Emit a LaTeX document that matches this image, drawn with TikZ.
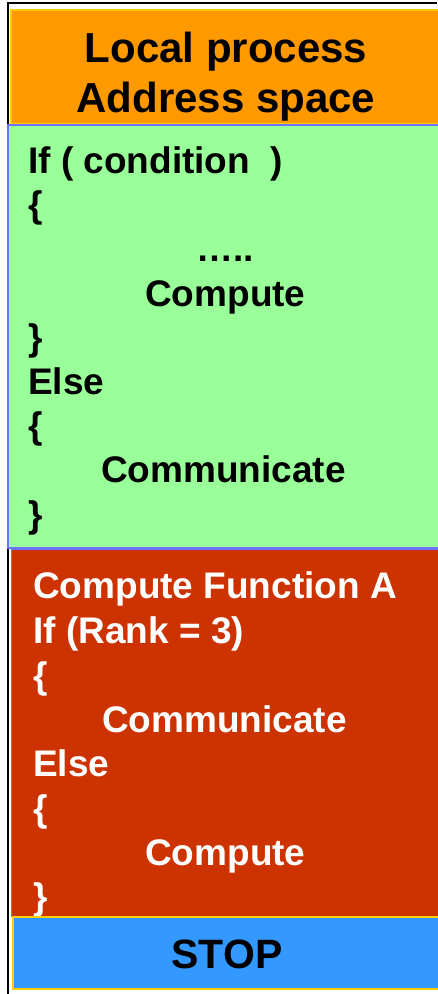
\documentclass[tikz,border=0pt]{standalone}
\usepackage{fontspec}
\setmainfont{Liberation Sans}
\definecolor{headorange}{HTML}{FF9900}
\definecolor{branchgreen}{HTML}{99FF99}
\definecolor{rankred}{HTML}{CC3300}
\definecolor{stopblue}{HTML}{3399FF}
\definecolor{rimyellow}{HTML}{FFCC00}
\definecolor{rimviolet}{HTML}{7070FF}
\tikzset{
    codeline/.style={anchor=base west, inner sep=0pt, font=\bfseries\fontsize{37}{44}\selectfont},
    headline/.style={inner sep=0pt, align=center, font=\bfseries\fontsize{42}{50}\selectfont}
}
\begin{document}
\begin{tikzpicture}[x=1pt, y=-1pt]
        \useasboundingbox (0,0) rectangle (437,994);

        % Outer frame
        \draw[line width=2pt] (8,994) -- (8,3) -- (437,3);

        % Header
        \draw[fill=headorange, draw=rimyellow, line width=1.5pt] (11,10) rectangle (440,124);
        \node[headline, anchor=base] (head) at (226,112) {Local process\\Address space};

        % Condition block
        \draw[fill=branchgreen, draw=rimviolet, line width=2pt] (8,125) rectangle (440,548);
        \foreach \x/\y/\txt [count=\i] in {28/173/{If ( condition~~)}, 28/217/\{, 196/261/{…..},
            145/306/Compute, 28/350/\}, 28/394/Else, 28/438/\{, 101/482/Communicate, 28/527/\}} {
            \node[codeline] (cond\i) at (\x,\y) {\txt};
        }

        % Rank block
        \draw[fill=rankred, draw=rimviolet, line width=1pt] (11,549) rectangle (440,916);
        \foreach \x/\y/\txt [count=\i] in {33/598/{Compute Function A}, 33/643/{If (Rank = 3)}, 33/688/\{,
            102/732/Communicate, 33/776/Else, 33/821/\{, 145/865/Compute, 33/909/\}} {
            \node[codeline, text=white] (rank\i) at (\x,\y) {\txt};
        }

        % Stop
        \draw[fill=stopblue, draw=rimyellow, line width=2pt] (13,917) rectangle (440,989);
        \node[headline, anchor=base, font=\bfseries\fontsize{41}{49}\selectfont] (stop) at (227,968) {STOP};
    \end{tikzpicture}
\end{document}
